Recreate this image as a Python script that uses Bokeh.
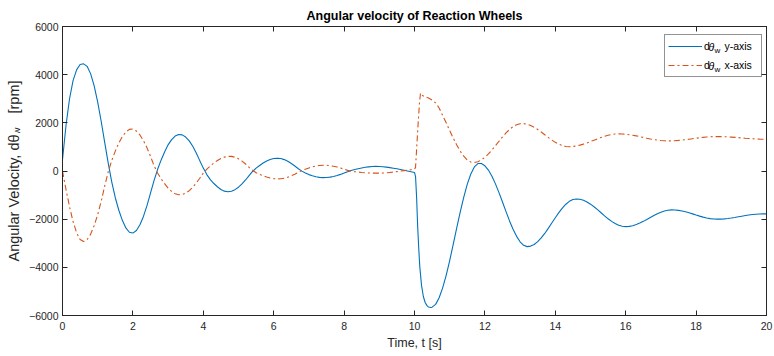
import math
from bokeh.plotting import figure
from bokeh.layouts import row, column
from bokeh.models import (Range1d, FixedTicker, LinearAxis, Legend, LegendItem)
from bokeh.core.properties import value
from bokeh.embed import file_html
from bokeh.resources import INLINE

# ---------------- data ----------------
t_before = [round(0.1 * i, 1) for i in range(101)]            # 0.0 .. 10.0 s
t_after = [round(10.6 + 0.1 * i, 1) for i in range(95)]       # 10.6 .. 20.0 s

jump_t_y = [10.03, 10.06, 10.09, 10.12, 10.15, 10.2, 10.25, 10.3, 10.35, 10.4, 10.47, 10.5]
jump_t_x = [10.03, 10.06, 10.1, 10.14, 10.17, 10.2, 10.3, 10.4, 10.5]

wy_before = [470, 1900, 3000, 3750, 4200, 4420, 4450, 4345, 4033, 3533,
             2862, 2055, 1180, 320, -460, -1110, -1630, -2049, -2365, -2543,
             -2578, -2469, -2234, -1886, -1440, -921, -400, 60, 450, 790,
             1087, 1304, 1450, 1516, 1501, 1411, 1250, 1026, 750, 430,
             120, -150, -360, -520, -655, -767, -837, -860, -838, -775,
             -673, -536, -373, -190, -20, 120, 230, 330, 414, 478,
             517, 530, 516, 473, 404, 313, 206, 95, -5, -85,
             -150, -197, -237, -263, -275, -272, -255, -227, -188, -141,
             -87, -29, 20, 59, 95, 127, 154, 173, 186, 190,
             185, 175, 160, 140, 115, 90, 60, 30, 0, -30,
             -60]
wy_jump = [-230, -1100, -2300, -3200, -3970, -4750, -5200, -5450, -5580, -5650, -5670, -5655]
wy_after = [-5538, -5263, -4852, -4331,
            -3720, -3049, -2366, -1699, -1082, -543, -123, 170, 310, 310,
            216, 40, -216, -535, -898, -1289, -1689, -2073, -2419, -2714,
            -2939, -3085, -3140, -3119, -3050, -2935, -2780, -2593, -2383, -2161,
            -1939, -1727, -1539, -1379, -1259, -1185, -1160, -1174, -1217, -1285,
            -1377, -1485, -1607, -1735, -1863, -1985, -2093, -2183, -2252, -2296,
            -2310, -2300, -2271, -2225, -2164, -2091, -2011, -1929, -1848, -1774,
            -1710, -1661, -1628, -1615, -1620, -1634, -1660, -1694, -1734, -1780,
            -1827, -1873, -1915, -1950, -1977, -1994, -2000, -1997, -1987, -1972,
            -1952, -1929, -1903, -1877, -1851, -1828, -1808, -1793, -1783, -1780,
            -1780]

wx_before = [0, -771, -1486, -2099, -2563, -2846, -2930, -2844, -2620, -2268,
             -1808, -1255, -620, -30, 440, 825, 1159, 1431, 1623, 1728,
             1743, 1660, 1497, 1261, 961, 612, 220, -80, -320, -528,
             -708, -849, -944, -987, -978, -921, -819, -676, -501, -302,
             -87, 81, 212, 332, 436, 519, 577, 606, 608, 571,
             505, 411, 292, 150, 30, -70, -140, -198, -251, -292,
             -318, -330, -324, -299, -257, -200, -132, -55, 17, 74,
             127, 172, 207, 230, 240, 238, 222, 198, 164, 123,
             76, 26, -9, -28, -45, -60, -73, -82, -88, -90,
             -90, -85, -75, -60, -45, -25, -5, 15, 35, 55,
             75]
wx_jump = [150, 900, 1900, 2800, 3230, 3150, 3080, 3030, 2950]
wx_after = [2827, 2617, 2300, 2000,
            1680, 1370, 1080, 820, 620, 458, 368, 355, 385, 459,
            568, 708, 871, 1050, 1234, 1414, 1580, 1725, 1842, 1923,
            1965, 1968, 1940, 1888, 1815, 1723, 1619, 1507, 1394, 1286,
            1190, 1111, 1053, 1019, 1010, 1019, 1041, 1074, 1117, 1167,
            1223, 1281, 1339, 1394, 1443, 1484, 1515, 1534, 1540, 1536,
            1526, 1508, 1485, 1458, 1427, 1395, 1363, 1332, 1305, 1282,
            1264, 1254, 1250, 1252, 1259, 1270, 1284, 1301, 1320, 1340,
            1360, 1379, 1396, 1410, 1421, 1428, 1430, 1429, 1424, 1417,
            1408, 1397, 1385, 1372, 1359, 1348, 1337, 1329, 1323, 1320,
            1320]

x_ticks = [0, 2, 4, 6, 8, 10, 12, 14, 16, 18, 20]
y_ticks = [-6000, -4000, -2000, 0, 2000, 4000, 6000]

title_text = "Angular velocity of Reaction Wheels"
xlabel_text = "Time, t [s]"
legend_rest = ["y-axis", "x-axis"]

t_y = t_before + jump_t_y + t_after
w_y = wy_before + wy_jump + wy_after
t_x = t_before + jump_t_x + t_after
w_x = wx_before + wx_jump + wx_after

# ---------------- styling ----------------
FONT = "Liberation Sans"
AX = "#262626"
BLUE = "#0072BD"
ORANGE = "#D95319"
LEFT_W = 26

p = figure(width=774 - LEFT_W, height=356, output_backend="svg", toolbar_location=None,
           x_range=Range1d(0, 20), y_range=Range1d(-6000, 6000),
           min_border_left=61 - LEFT_W, min_border_right=8, min_border_top=26, min_border_bottom=41)
p.background_fill_color = "white"
p.border_fill_color = "white"
p.outline_line_color = AX
p.outline_line_width = 1
p.xgrid.visible = False
p.ygrid.visible = False

p.title.text = title_text
p.title.text_font = FONT
p.title.text_font_size = "12.5px"
p.title.text_font_style = "bold"
p.title.align = "center"
p.title.text_color = "black"
p.title.standoff = 7

r_y = p.line(t_y, w_y, line_color=BLUE, line_width=1.1)
r_x = p.line(t_x, w_x, line_color=ORANGE, line_width=1.1, line_dash="6 3 2 3")


def style_axis(ax, ticks, show_labels=True):
    ax.ticker = FixedTicker(ticks=ticks)
    ax.axis_line_color = AX
    ax.major_tick_line_color = AX
    ax.major_tick_in = 5
    ax.major_tick_out = 0
    ax.minor_tick_line_color = None
    ax.major_label_text_font = FONT
    ax.major_label_text_color = AX
    if show_labels:
        ax.major_label_text_font_size = "10.5px"
    else:
        ax.major_label_overrides = {t: "" for t in ticks}
        ax.major_label_standoff = 0


style_axis(p.xaxis[0], x_ticks)
style_axis(p.yaxis[0], y_ticks)
p.xaxis[0].major_label_standoff = 6
p.yaxis[0].major_label_standoff = 4
p.xaxis[0].axis_label = xlabel_text
p.xaxis[0].axis_label_text_font = FONT
p.xaxis[0].axis_label_text_font_size = "12.5px"
p.xaxis[0].axis_label_text_font_style = "normal"
p.xaxis[0].axis_label_text_color = AX
p.xaxis[0].axis_label_standoff = 3

top_ax = LinearAxis()
right_ax = LinearAxis()
style_axis(top_ax, x_ticks, show_labels=False)
style_axis(right_ax, y_ticks, show_labels=False)
p.add_layout(top_ax, "above")
p.add_layout(right_ax, "right")

# legend (transparent fill so the θ / w texts drawn beneath it stay visible)
legend = Legend(items=[LegendItem(label="d     " + legend_rest[0], renderers=[r_y]),
                       LegendItem(label="d     " + legend_rest[1], renderers=[r_x])],
                location=(602, 238.5), margin=0, padding=3, spacing=3,
                glyph_width=34, glyph_height=16, label_height=16, label_width=54,
                label_standoff=2, label_text_font=FONT, label_text_font_size="10.5px",
                label_text_color="black", border_line_color=AX, border_line_width=1,
                background_fill_color="white", background_fill_alpha=0.0)
p.add_layout(legend, "center")

p.text(x=[18.355, 18.355], y=[5149, 4360], text=["θ", "θ"], text_font=value(FONT),
       text_font_size="10.5px", text_font_style="italic", text_align="left",
       text_baseline="middle", text_color="black")
p.text(x=[18.52, 18.52], y=[4983, 4194], text=["w", "w"], text_font=value(FONT),
       text_font_size="8px", text_align="left",
       text_baseline="middle", text_color="black")


# ---------------- y-axis label strip: "Angular Velocity, dθ_w  [rpm]" ----------------
def vpiece(text, height, top, bottom, left, fs, style="normal"):
    f = figure(width=LEFT_W, height=height, output_backend="svg", toolbar_location=None,
               x_range=Range1d(0, 1), y_range=Range1d(0, 1),
               x_axis_type=None, y_axis_type=None,
               min_border_top=top, min_border_bottom=bottom,
               min_border_left=left, min_border_right=0)
    f.outline_line_color = None
    f.background_fill_color = None
    f.border_fill_color = None
    f.xgrid.visible = False
    f.ygrid.visible = False
    ax = LinearAxis(ticker=FixedTicker(ticks=[]), axis_label=text,
                    axis_line_color=None, major_tick_line_color=None,
                    minor_tick_line_color=None, major_tick_in=0, major_tick_out=0,
                    major_label_standoff=0, axis_label_standoff=0,
                    axis_label_text_font=FONT, axis_label_text_font_size=f"{fs}px",
                    axis_label_text_font_style=style, axis_label_text_color=AX)
    f.add_layout(ax, "left")
    return f


strip = column(
    vpiece("[rpm]", 122, 80, 9, 19, 14.5),
    vpiece("w", 11, 4, 0, 21, 9.5),
    vpiece("Angular Velocity, dθ", 223, 0, 94, 19, 14.5),
    spacing=0)

layout = row(strip, p, spacing=0)
open("out.html", "w").write(file_html(layout, INLINE))
